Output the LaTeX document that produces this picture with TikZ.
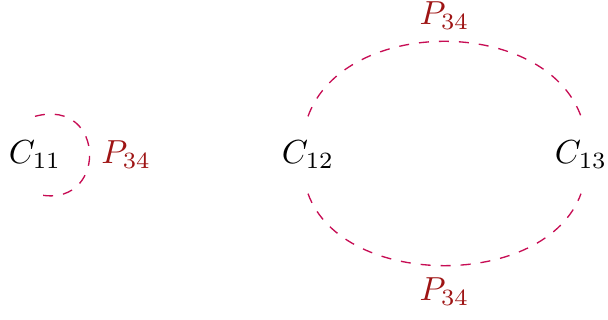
\documentclass[tikz,border=0pt]{standalone}
\usepackage{xcolor}
\definecolor{edgecol}{rgb}{0.78,0.05,0.33}
\definecolor{labcol}{rgb}{0.62,0.08,0.08}
\begin{document}
\begin{tikzpicture}[x=0.3pt,y=0.3pt,
  vert/.style={minimum height=22.8pt,inner sep=0pt},
  conn/.style={draw=edgecol,dashed},
  lab/.style={text=labcol}]
\useasboundingbox (0,0) rectangle (608,320);
\node[vert] (C11) at (35,165) {$C_{11}$};
\node[vert] (C12) at (308,165) {$C_{12}$};
\node[vert] (C13) at (581,165) {$C_{13}$};
\draw[conn] (C11.north) to[out=15,in=-15,looseness=2.5] node[lab,right] (L1) {$P_{34}$} (C11.south);
\draw[conn] (C12.north) to[out=70,in=110] node[lab,above] (L2) {$P_{34}$} (C13.north);
\draw[conn] (C12.south) to[out=-70,in=-110,looseness=0.96] node[lab,below] (L3) {$P_{34}$} (C13.south);
\end{tikzpicture}
\end{document}
